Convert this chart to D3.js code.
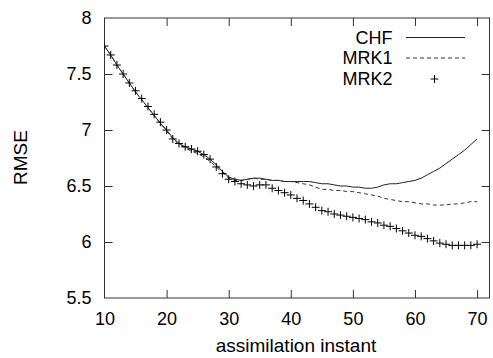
<!DOCTYPE html>
<html><head><meta charset="utf-8">
<script src="https://cdn.jsdelivr.net/npm/d3@7"></script>
<style>
html,body{margin:0;padding:0;background:#fff;}
text{font-family:"Liberation Sans",Arial,Helvetica,sans-serif;fill:#000;}
</style></head>
<body><svg id="c" width="493" height="358"></svg>
<script>
const instants = d3.range(10, 71);
const chf = [7.75,7.67,7.58,7.50,7.42,7.34,7.27,7.20,7.13,7.06,7.00,6.93,6.88,6.85,6.83,6.81,6.78,6.74,6.69,6.63,6.58,6.56,6.55,6.56,6.57,6.57,6.56,6.55,6.55,6.54,6.54,6.54,6.54,6.54,6.53,6.52,6.52,6.51,6.50,6.50,6.49,6.49,6.48,6.48,6.49,6.51,6.52,6.52,6.53,6.54,6.55,6.57,6.60,6.63,6.66,6.70,6.74,6.78,6.82,6.87,6.92];
const mrk1 = [7.75,7.67,7.58,7.50,7.42,7.34,7.27,7.20,7.13,7.06,6.99,6.92,6.87,6.84,6.81,6.79,6.76,6.72,6.67,6.62,6.57,6.55,6.55,6.56,6.57,6.56,6.56,6.55,6.55,6.54,6.54,6.53,6.52,6.51,6.49,6.47,6.47,6.46,6.46,6.45,6.45,6.44,6.43,6.42,6.41,6.39,6.38,6.37,6.36,6.36,6.35,6.34,6.34,6.33,6.33,6.33,6.34,6.34,6.35,6.36,6.36];
const mrk2 = [7.75,7.67,7.58,7.50,7.42,7.35,7.28,7.21,7.14,7.07,7.00,6.92,6.88,6.85,6.83,6.81,6.78,6.74,6.67,6.61,6.56,6.54,6.52,6.51,6.50,6.51,6.51,6.48,6.46,6.44,6.42,6.39,6.37,6.34,6.31,6.28,6.27,6.25,6.24,6.23,6.22,6.21,6.20,6.18,6.17,6.15,6.14,6.12,6.10,6.08,6.06,6.05,6.03,6.01,5.99,5.98,5.97,5.97,5.97,5.97,5.98];
const xTicks = [10,20,30,40,50,60,70];
const yTicks = [5.5,6,6.5,7,7.5,8];
const seriesNames = ["CHF","MRK1","MRK2"];

const svg = d3.select("#c");
const L=104.5, R=489.5, T=18, B=298;
const x = d3.scaleLinear().domain([10,72]).range([L,R]);
const y = d3.scaleLinear().domain([5.5,8]).range([B,T]);
const frame = "#333";
const tl = 8;

// frame
svg.append("rect").attr("x",L).attr("y",T).attr("width",R-L).attr("height",B-T)
  .attr("fill","none").attr("stroke",frame).attr("stroke-width",1);

// axes via d3 axis
const xa = svg.append("g").attr("transform",`translate(0,${B})`)
  .call(d3.axisBottom(x).tickValues(xTicks).tickSizeInner(-tl).tickSizeOuter(0).tickPadding(14).tickFormat(d3.format("d")));
const xt = svg.append("g").attr("transform",`translate(0,${T})`)
  .call(d3.axisTop(x).tickValues(xTicks.filter(d=>d>10)).tickSizeInner(-tl).tickSizeOuter(0).tickFormat(""));
const ya = svg.append("g").attr("transform",`translate(${L},0)`)
  .call(d3.axisLeft(y).tickValues(yTicks).tickSizeInner(-tl).tickSizeOuter(0).tickPadding(14).tickFormat(d=>String(d)));
const yr = svg.append("g").attr("transform",`translate(${R},0)`)
  .call(d3.axisRight(y).tickValues(yTicks.filter(d=>d>5.5&&d<8)).tickSizeInner(-tl).tickSizeOuter(0).tickFormat(""));
[xa,xt,ya,yr].forEach(g=>{
  g.select(".domain").remove();
  g.selectAll(".tick line").attr("stroke",frame);
  g.selectAll("text").attr("font-size",18).attr("font-family","Liberation Sans, Arial, sans-serif").attr("fill","#000");
});
xa.selectAll(".tick line").filter(d=>d===10).remove();
ya.selectAll(".tick line").filter(d=>d===5.5||d===8).remove();
xa.selectAll("text").attr("dy","0.71em").attr("y",14);
ya.selectAll("text").attr("x",-13);

// axis titles
svg.append("text").attr("x",296).attr("y",351.5).attr("text-anchor","middle")
  .attr("font-size",19).text("assimilation instant");
svg.append("text").attr("transform","translate(26.5,157.5) rotate(-90)").attr("text-anchor","middle")
  .attr("font-size",19).text("RMSE");

const clip = svg.append("defs").append("clipPath").attr("id","clp");
clip.append("rect").attr("x",L).attr("y",T).attr("width",R-L).attr("height",B-T);

const line = d3.line().x((d,i)=>x(instants[i])).y(d=>y(d));
const g = svg.append("g").attr("clip-path","url(#clp)");
g.append("path").datum(chf).attr("d",line).attr("fill","none").attr("stroke","#222").attr("stroke-width",1);
g.append("path").datum(mrk1).attr("d",line).attr("fill","none").attr("stroke","#333").attr("stroke-width",1).attr("stroke-dasharray","4,3");
const h=4;
const plus = (px,py)=>`M${px-h},${py}H${px+h}M${px},${py-h}V${py+h}`;
g.append("path").attr("d",mrk2.map((v,i)=>plus(x(instants[i]),y(v))).join(""))
  .attr("fill","none").attr("stroke","#000").attr("stroke-width",1);

// legend
const lg = svg.append("g");
const rows = [37.5,58,79];
seriesNames.forEach((n,i)=>{
  lg.append("text").attr("x",392.5).attr("y",rows[i]).attr("dy","0.35em").attr("text-anchor","end")
    .attr("font-size",18).text(n);
});
lg.append("line").attr("x1",406).attr("x2",465).attr("y1",rows[0]).attr("y2",rows[0]).attr("stroke","#222");
lg.append("line").attr("x1",406).attr("x2",465).attr("y1",rows[1]).attr("y2",rows[1]).attr("stroke","#333").attr("stroke-dasharray","4,3");
lg.append("path").attr("d",plus(434.5,rows[2])).attr("stroke","#000").attr("fill","none");
</script></body></html>
